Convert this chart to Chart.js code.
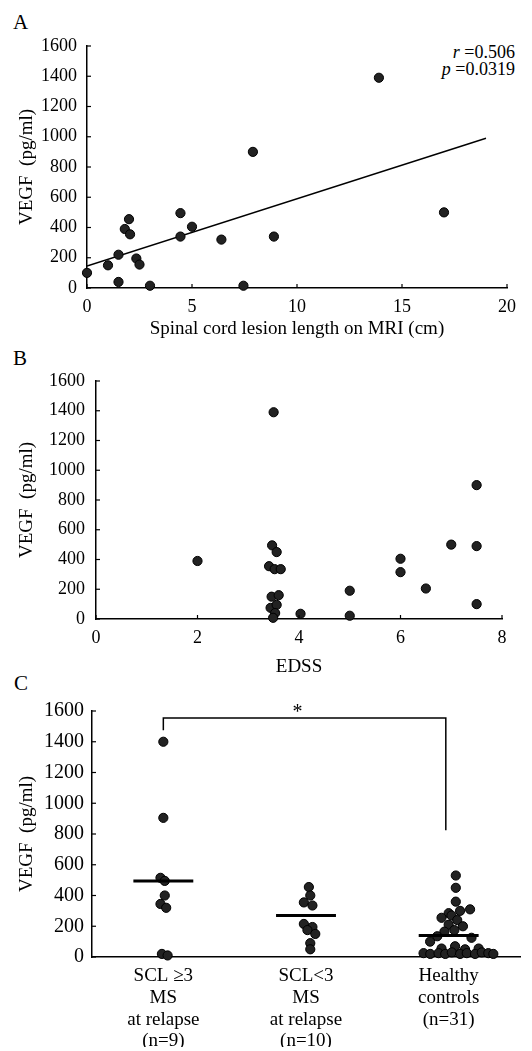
<!DOCTYPE html>
<html>
<head>
<meta charset="utf-8">
<script src="https://cdn.jsdelivr.net/npm/chart.js@4.4.0/dist/chart.umd.min.js"></script>
<style>
  body { margin: 0; background: #fff; width: 532px; height: 1051px; position: relative; overflow: hidden;
         font-family: "Liberation Serif", "DejaVu Serif", serif; color: #000; }
  .panel { position: absolute; left: 0; width: 532px; }
  .letter { position: absolute; font-size: 21px; line-height: 21px; }
  .stat { position: absolute; right: 17px; font-size: 18px; line-height: 18px; text-align: right; }
</style>
</head>
<body>
<div class="letter" style="left:13px; top:12px">A</div>
<div class="letter" style="left:13px; top:348px">B</div>
<div class="letter" style="left:14px; top:673px">C</div>
<div class="stat" style="top:43px"><i>r</i> =0.506</div>
<div class="stat" style="top:60px"><i>p</i> =0.0319</div>

<div class="panel" style="top:0; height:340px"><canvas id="chartA" width="532" height="340"></canvas></div>
<div class="panel" style="top:340px; height:340px"><canvas id="chartB" width="532" height="340"></canvas></div>
<div class="panel" style="top:680px; height:371px"><canvas id="chartC" width="532" height="371"></canvas></div>

<script>
// ---- data ----
const vegfTicks = [0, 200, 400, 600, 800, 1000, 1200, 1400, 1600];

// A: VEGF vs spinal cord lesion length
const lesionTicks = [0, 5, 10, 15, 20];
const lesionLength = [0, 1, 1.5, 1.5, 1.8, 2, 2.05, 2.35, 2.5, 3, 4.45, 4.45, 5, 6.4, 7.45, 7.9, 8.9, 13.9, 17];
const vegfByLesion = [100, 150, 220, 40, 390, 455, 355, 195, 155, 15, 495, 340, 405, 320, 15, 900, 340, 1390, 500];
const fitLength = [0, 19];
const fitVegf = [145, 990];

// B: VEGF vs EDSS
const edssTicks = [0, 2, 4, 6, 8];
const edss = [2, 3.5, 3.47, 3.56, 3.41, 3.52, 3.64, 3.46, 3.6, 3.44, 3.56, 3.53, 3.49, 4.03,
              5, 5, 6, 6, 6.5, 7, 7.5, 7.5, 7.5];
const vegfByEdss = [390, 1390, 495, 450, 355, 335, 335, 150, 160, 75, 95, 40, 8, 35,
                    190, 22, 405, 315, 205, 500, 900, 490, 100];

// C: VEGF by group
const groupLabels = [
  ['SCL \u22653', 'MS', 'at relapse', '(n=9)'],
  ['SCL<3', 'MS', 'at relapse', '(n=10)'],
  ['Healthy', 'controls', '(n=31)']
];
const groupTicks = [0.5, 1.5, 2.5];
const sclHighPos = [0.5, 0.5, 0.48, 0.51, 0.51, 0.48, 0.52, 0.49, 0.53];
const sclHighVegf = [1400, 905, 515, 495, 400, 345, 320, 20, 10];
const sclLowPos = [1.52, 1.53, 1.485, 1.545, 1.485, 1.545, 1.51, 1.565, 1.53, 1.53];
const sclLowVegf = [455, 400, 355, 335, 215, 195, 175, 150, 90, 50];
const controlPos = [2.55, 2.55, 2.55, 2.5, 2.58, 2.65, 2.45, 2.52, 2.56, 2.5, 2.6, 2.54, 2.47,
                    2.37, 2.42, 2.66, 2.45, 2.545, 2.615, 2.71,
                    2.324, 2.371, 2.429, 2.476, 2.522, 2.58, 2.627, 2.685, 2.732, 2.778, 2.813];
const controlVegf = [530, 450, 360, 285, 300, 310, 255, 270, 240, 210, 200, 175, 165,
                     100, 135, 125, 55, 70, 50, 55,
                     25, 20, 25, 20, 30, 20, 25, 20, 30, 25, 20];
const groupMeans = [495, 270, 140];
const bracketEnds = [0.5, 2.48];
const bracketLevels = [1475, 1555, 825];   // left foot, top, right foot
const starAt = [1.44, 1600];

// ---- styling helpers ----
const ink = '#000';
const serif = '"Liberation Serif", "DejaVu Serif", serif';
const MEAN_HALF = 0.21;

function toPoints(xs, ys) {
  return xs.map((x, i) => ({ x: x, y: ys[i] }));
}

function dots(xs, ys) {
  return {
    data: toPoints(xs, ys),
    backgroundColor: '#222',
    borderColor: '#000',
    borderWidth: 1,
    pointRadius: 4.6,
    clip: false
  };
}

function vegfAxis(width, tickSize, pad) {
  return {
    type: 'linear', min: 0, max: 1600,
    afterBuildTicks: s => { s.ticks = vegfTicks.map(v => ({ value: v })); },
    afterFit: s => { s.width = width; },
    grid: { display: false },
    border: { display: true, color: ink, width: 1.5 },
    ticks: { color: ink, padding: pad, font: { family: serif, size: tickSize }, callback: v => String(v) },
    title: { display: true, text: 'VEGF  (pg/ml)', color: ink,
             font: { family: serif, size: 19 }, padding: { top: 16, bottom: 0 } }
  };
}

function valueAxis(min, max, tickList, height, title) {
  return {
    type: 'linear', min: min, max: max,
    afterBuildTicks: s => { s.ticks = tickList.map(v => ({ value: v })); },
    afterFit: s => { s.height = height; },
    grid: { display: false },
    border: { display: true, color: ink, width: 1.5 },
    ticks: { color: ink, padding: 0, font: { family: serif, size: 18 }, callback: v => String(v) },
    title: { display: true, text: title, color: ink,
             font: { family: serif, size: 19 }, padding: { top: 0, bottom: 0 } }
  };
}

// small tick marks pointing into the plot
const innerTicks = {
  id: 'innerTicks',
  afterDraw(chart, args, opts) {
    const ctx = chart.ctx;
    const area = chart.chartArea;
    ctx.save();
    ctx.strokeStyle = ink;
    ctx.lineWidth = 1.2;
    (opts.axes || []).forEach(id => {
      const scale = chart.scales[id];
      scale.ticks.forEach(t => {
        const p = scale.getPixelForValue(t.value);
        ctx.beginPath();
        if (scale.isHorizontal()) {
          ctx.moveTo(p, area.bottom);
          ctx.lineTo(p, area.bottom - 4);
        } else {
          ctx.moveTo(area.left, p);
          ctx.lineTo(area.left + 4, p);
        }
        ctx.stroke();
      });
    });
    ctx.restore();
  }
};

// significance bracket for panel C
const bracket = {
  id: 'bracket',
  afterDraw(chart) {
    const x = chart.scales.x, y = chart.scales.y;
    const ctx = chart.ctx;
    const x0 = x.getPixelForValue(bracketEnds[0]);
    const x1 = x.getPixelForValue(bracketEnds[1]);
    ctx.save();
    ctx.strokeStyle = ink;
    ctx.lineWidth = 1.5;
    ctx.beginPath();
    ctx.moveTo(x0, y.getPixelForValue(bracketLevels[0]));
    ctx.lineTo(x0, y.getPixelForValue(bracketLevels[1]));
    ctx.lineTo(x1, y.getPixelForValue(bracketLevels[1]));
    ctx.lineTo(x1, y.getPixelForValue(bracketLevels[2]));
    ctx.stroke();
    ctx.fillStyle = ink;
    ctx.font = '20px ' + serif;
    ctx.textAlign = 'center';
    ctx.textBaseline = 'middle';
    ctx.fillText('*', x.getPixelForValue(starAt[0]), y.getPixelForValue(starAt[1]) + 2);
    ctx.restore();
  }
};

function baseOptions(padding, axes, scales) {
  return {
    responsive: false,
    animation: false,
    events: [],
    layout: { padding: padding },
    plugins: { legend: { display: false }, tooltip: { enabled: false }, innerTicks: { axes: axes } },
    scales: scales
  };
}

// ---- panel A ----
new Chart(document.getElementById('chartA'), {
  type: 'scatter',
  data: {
    datasets: [
      dots(lesionLength, vegfByLesion),
      { data: toPoints(fitLength, fitVegf), showLine: true, borderColor: ink, borderWidth: 1.4,
        pointRadius: 0, fill: false }
    ]
  },
  options: baseOptions({ left: 0, top: 46, right: 25, bottom: 0 }, ['x', 'y'], {
    x: valueAxis(0, 20, lesionTicks, 52, 'Spinal cord lesion length on MRI (cm)'),
    y: vegfAxis(87, 18, 2)
  }),
  plugins: [innerTicks]
});

// ---- panel B ----
new Chart(document.getElementById('chartB'), {
  type: 'scatter',
  data: { datasets: [dots(edss, vegfByEdss)] },
  options: baseOptions({ left: 0, top: 41, right: 30, bottom: 2 }, ['x', 'y'], {
    x: valueAxis(0, 8, edssTicks, 59, 'EDSS'),
    y: vegfAxis(96, 18, 3)
  }),
  plugins: [innerTicks]
});

// ---- panel C ----
const meanLines = groupMeans.map((m, i) => ({
  data: [{ x: groupTicks[i] - MEAN_HALF, y: m }, { x: groupTicks[i] + MEAN_HALF, y: m }],
  showLine: true, borderColor: ink, borderWidth: 3, pointRadius: 0, fill: false
}));

const cX = {
  type: 'linear', min: 0, max: 3,
  afterBuildTicks: s => { s.ticks = groupTicks.map(v => ({ value: v })); },
  afterFit: s => { s.height = 90; },
  grid: { display: false },
  border: { display: true, color: ink, width: 1.5 },
  ticks: {
    color: ink, padding: 0,
    font: { family: serif, size: 19, lineHeight: 1.15 },
    callback: (v, i) => groupLabels[i]
  }
};

new Chart(document.getElementById('chartC'), {
  type: 'scatter',
  data: {
    datasets: meanLines.concat([
      dots(sclHighPos, sclHighVegf),
      dots(sclLowPos, sclLowVegf),
      dots(controlPos, controlVegf)
    ])
  },
  options: baseOptions({ left: 0, top: 31, right: 12, bottom: 4 }, ['y'], {
    x: cX,
    y: vegfAxis(92, 20, 0)
  }),
  plugins: [innerTicks, bracket]
});
</script>
</body>
</html>
